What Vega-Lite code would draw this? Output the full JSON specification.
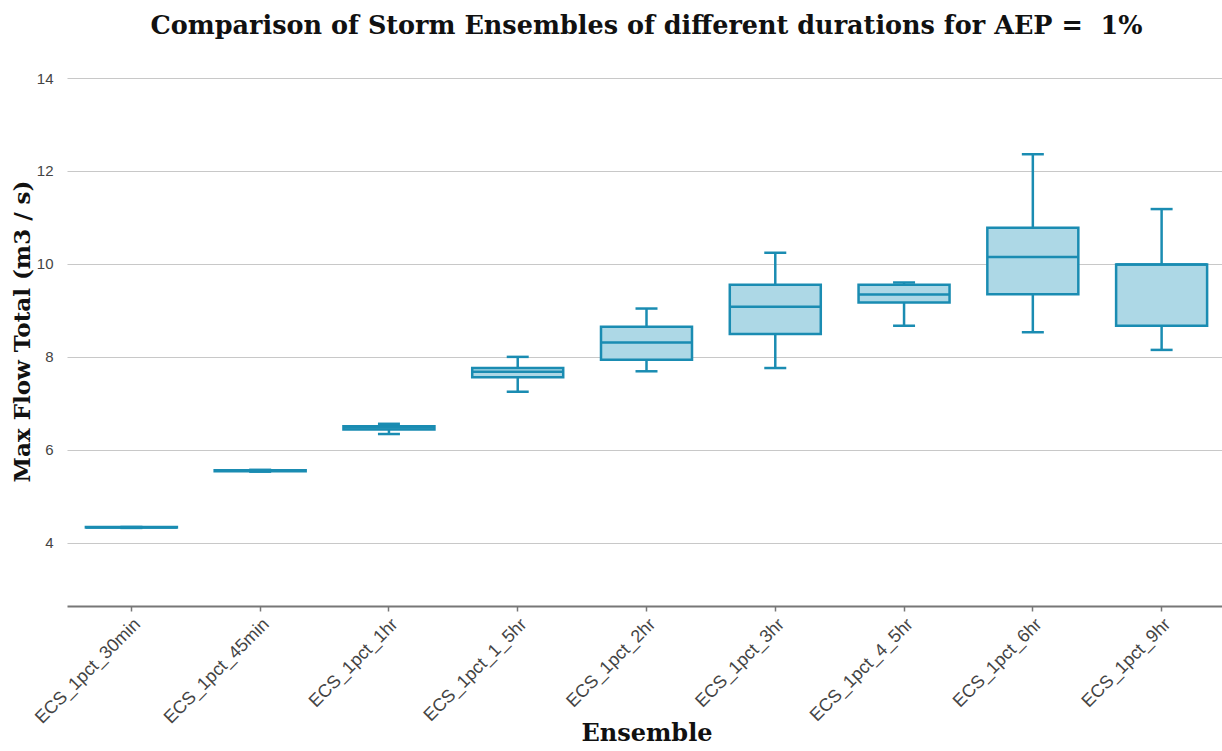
{
  "$schema": "https://vega.github.io/schema/vega-lite/v6.json",
  "width": 1159,
  "height": 528,
  "autosize": "none",
  "padding": {"left": 67, "top": 78, "right": 0, "bottom": 145},
  "background": "white",
  "title": {
    "text": "Comparison of Storm Ensembles of different durations for AEP =\u00a0 1%",
    "font": "DejaVu Serif",
    "fontSize": 25.5,
    "fontWeight": "bold",
    "color": "#111",
    "anchor": "middle",
    "frame": "group",
    "offset": 32
  },
  "data": {
    "values": [
      {"ensemble": "ECS_1pct_30min", "min": 4.32, "q1": 4.33, "median": 4.33, "q3": 4.34, "max": 4.34},
      {"ensemble": "ECS_1pct_45min", "min": 5.53, "q1": 5.54, "median": 5.55, "q3": 5.56, "max": 5.57},
      {"ensemble": "ECS_1pct_1hr", "min": 6.34, "q1": 6.44, "median": 6.48, "q3": 6.51, "max": 6.56},
      {"ensemble": "ECS_1pct_1_5hr", "min": 7.25, "q1": 7.56, "median": 7.68, "q3": 7.76, "max": 8.0},
      {"ensemble": "ECS_1pct_2hr", "min": 7.69, "q1": 7.94, "median": 8.31, "q3": 8.65, "max": 9.04},
      {"ensemble": "ECS_1pct_3hr", "min": 7.76, "q1": 8.49, "median": 9.08, "q3": 9.55, "max": 10.24},
      {"ensemble": "ECS_1pct_4_5hr", "min": 8.67, "q1": 9.17, "median": 9.34, "q3": 9.55, "max": 9.6},
      {"ensemble": "ECS_1pct_6hr", "min": 8.53, "q1": 9.35, "median": 10.15, "q3": 10.78, "max": 12.36},
      {"ensemble": "ECS_1pct_9hr", "min": 8.15, "q1": 8.67, "median": 9.99, "q3": 9.99, "max": 11.18}
    ]
  },
  "encoding": {
    "x": {
      "field": "ensemble",
      "type": "nominal",
      "sort": null,
      "scale": {"paddingInner": 0, "paddingOuter": 0},
      "axis": {
        "title": "Ensemble",
        "titleFont": "DejaVu Serif",
        "titleFontSize": 24,
        "titleFontWeight": "bold",
        "titleColor": "#111",
        "titleY": 115,
        "titleBaseline": "top",
        "labelAngle": -45,
        "labelFont": "Liberation Sans",
        "labelFontSize": 18,
        "labelColor": "#444",
        "labelPadding": 4,
        "domainColor": "#777",
        "domainWidth": 2,
        "tickColor": "#777",
        "tickSize": 5,
        "tickWidth": 1.5,
        "grid": false
      }
    }
  },
  "layer": [
    {
      "mark": {"type": "rule", "color": "#1a8cb2", "strokeWidth": 2.5},
      "encoding": {
        "y": {
          "field": "min",
          "type": "quantitative",
          "scale": {"domain": [2.64, 14], "nice": false, "zero": false},
          "axis": {
            "title": "Max Flow Total (m3 / s)",
            "titleFont": "DejaVu Serif",
            "titleFontSize": 23,
            "titleFontWeight": "bold",
            "titleColor": "#111",
            "titleX": -33,
            "titleY": 253,
            "labelFont": "Liberation Sans",
            "values": [4, 6, 8, 10, 12, 14],
            "labelFontSize": 15,
            "labelColor": "#444",
            "labelPadding": 14,
            "ticks": false,
            "domain": false,
            "grid": true,
            "gridColor": "#c8c8c8",
            "gridWidth": 1.2
          }
        },
        "y2": {"field": "max"}
      }
    },
    {
      "mark": {"type": "bar", "size": 91, "fill": "#add8e6", "stroke": "#1a8cb2", "strokeWidth": 2.5},
      "encoding": {
        "y": {"field": "q1", "type": "quantitative"},
        "y2": {"field": "q3"}
      }
    },
    {
      "mark": {"type": "tick", "size": 91, "thickness": 2.5, "color": "#1a8cb2", "opacity": 1},
      "encoding": {
        "y": {"field": "median", "type": "quantitative"}
      }
    },
    {
      "mark": {"type": "tick", "size": 22, "thickness": 2.5, "color": "#1a8cb2", "opacity": 1},
      "encoding": {
        "y": {"field": "min", "type": "quantitative"}
      }
    },
    {
      "mark": {"type": "tick", "size": 22, "thickness": 2.5, "color": "#1a8cb2", "opacity": 1},
      "encoding": {
        "y": {"field": "max", "type": "quantitative"}
      }
    }
  ],
  "config": {
    "view": {"stroke": null}
  }
}
